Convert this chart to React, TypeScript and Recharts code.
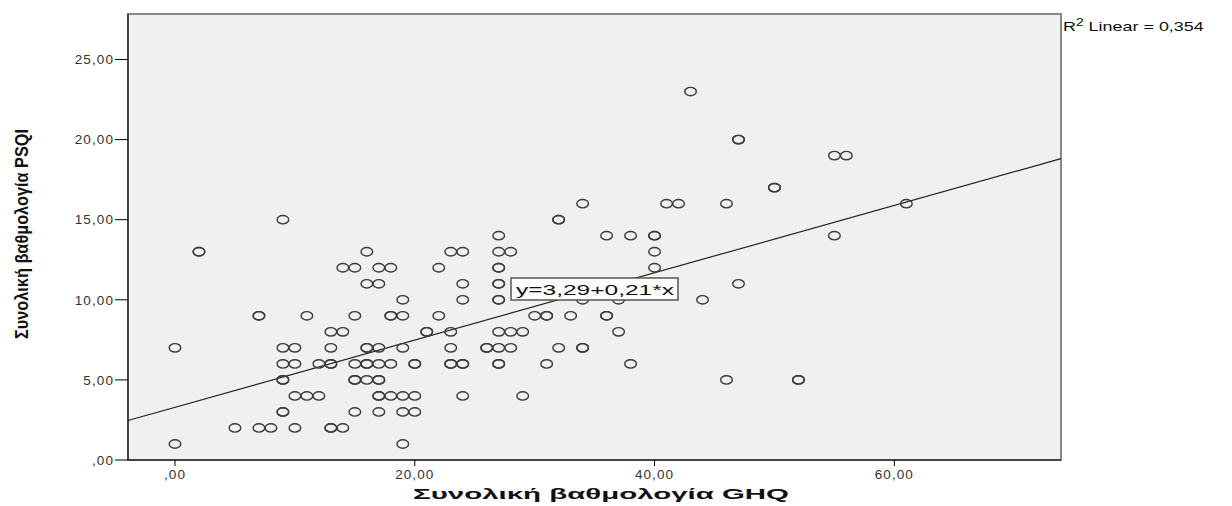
import React from "react";
import {
  ScatterChart,
  Scatter,
  XAxis,
  YAxis,
  CartesianGrid,
  ReferenceLine,
  ReferenceArea,
} from "recharts";

// GHQ score (x) and PSQI score (y); repeated pairs are overlapping cases
const ghq: number[] = [
  9, 43, 47, 47, 34, 32, 32, 27, 36, 38, 40, 40, 41, 42, 46, 55, 56, 50, 50, 61,
  55, 2, 2, 16, 14, 15, 17, 18, 22, 16, 17, 19, 7, 7, 11, 15, 18, 18, 19, 22,
  13, 14, 21, 21, 0, 9, 10, 13, 16, 16, 17, 19, 9, 10, 12, 13, 13, 15, 16, 16,
  17, 18, 20, 20, 9, 9, 15, 15, 16, 17, 17, 10, 11, 12, 17, 17, 18, 19, 20, 9,
  9, 15, 17, 19, 20, 5, 7, 8, 10, 13, 13, 14, 0, 19, 23, 24, 27, 28, 40, 27,
  27, 40, 24, 27, 27, 47, 24, 27, 27, 34, 37, 44, 30, 31, 31, 33, 36, 36, 23,
  27, 28, 29, 37, 23, 26, 26, 27, 28, 32, 34, 34, 23, 23, 24, 24, 27, 27, 31,
  38, 46, 24, 29, 52, 52,
];
const psqi: number[] = [
  15, 23, 20, 20, 16, 15, 15, 14, 14, 14, 14, 14, 16, 16, 16, 19, 19, 17, 17, 16,
  14, 13, 13, 13, 12, 12, 12, 12, 12, 11, 11, 10, 9, 9, 9, 9, 9, 9, 9, 9,
  8, 8, 8, 8, 7, 7, 7, 7, 7, 7, 7, 7, 6, 6, 6, 6, 6, 6, 6, 6,
  6, 6, 6, 6, 5, 5, 5, 5, 5, 5, 5, 4, 4, 4, 4, 4, 4, 4, 4, 3,
  3, 3, 3, 3, 3, 2, 2, 2, 2, 2, 2, 2, 1, 1, 13, 13, 13, 13, 13, 12,
  12, 12, 11, 11, 11, 11, 10, 10, 10, 10, 10, 10, 9, 9, 9, 9, 9, 9, 8,
  8, 8, 8, 8, 7, 7, 7, 7, 7, 7, 7, 7, 6, 6, 6, 6, 6, 6, 6,
  6, 5, 4, 4, 5, 5,
];

const xTicks = [0, 20, 40, 60];
const yTicks = [0, 5, 10, 15, 20, 25];
const xDomain: [number, number] = [-3.92, 73.9];
const yDomain: [number, number] = [0, 27.84];

// fit line: y = 3.29 + 0.21x
const intercept = 3.29;
const slope = 0.21;
const rSquared = "0,354";

const points = ghq.map((g, i) => ({ ghq: g, psqi: psqi[i] }));

const fmt = (v: number) =>
  v === 0 ? ",00" : v.toFixed(2).replace(".", ",");

const OpenCircle = (props: any) => (
  <ellipse
    cx={props.cx}
    cy={props.cy}
    rx={5.8}
    ry={4.2}
    fill="none"
    stroke="#3a3a3a"
    strokeWidth={1.4}
  />
);

const font = "'Liberation Sans', Arial, sans-serif";
const tickStyle = {
  fill: "#333",
  fontSize: 13.5,
  fontFamily: font,
  letterSpacing: 1.1,
};

export default function App(): JSX.Element {
  return (
    <div
      style={{
        position: "absolute",
        left: 0,
        top: 0,
        width: 1232,
        height: 506,
        background: "#fff",
      }}
    >
      <ScatterChart
        width={1232}
        height={506}
        margin={{ top: 14, right: 171, left: 68, bottom: 16 }}
      >
        <CartesianGrid
          fill="#f0f0f0"
          horizontal={false}
          vertical={false}
        />
        <ReferenceArea
          x1={xDomain[0]}
          x2={xDomain[1]}
          y1={yDomain[0]}
          y2={yDomain[1]}
          fill="none"
          stroke="#888"
          strokeWidth={2}
          ifOverflow="visible"
        />
        <XAxis
          type="number"
          dataKey="ghq"
          domain={xDomain}
          ticks={xTicks}
          allowDataOverflow
          height={30}
          tickFormatter={fmt}
          tickSize={6}
          tickMargin={3}
          stroke="#000"
          tick={tickStyle}
        />
        <YAxis
          type="number"
          dataKey="psqi"
          domain={yDomain}
          ticks={yTicks}
          allowDataOverflow
          width={60}
          tickFormatter={fmt}
          tickSize={13}
          tickMargin={1}
          stroke="#000"
          tick={tickStyle}
        />
        <ReferenceLine
          segment={[
            { x: xDomain[0], y: intercept + slope * xDomain[0] },
            { x: xDomain[1], y: intercept + slope * xDomain[1] },
          ]}
          stroke="#222"
          strokeWidth={1.2}
        />
        <Scatter
          data={points}
          shape={OpenCircle}
          isAnimationActive={false}
        />
      </ScatterChart>
      <svg
        width={1232}
        height={506}
        style={{ position: "absolute", left: 0, top: 0, pointerEvents: "none" }}
      >
        <text
          transform="translate(28,234) rotate(-90)"
          textAnchor="middle"
          fontFamily={font}
          fontWeight="bold"
          fontSize={19}
          textLength={210}
          lengthAdjust="spacingAndGlyphs"
          fill="#111"
        >
          Συνολική βαθμολογία PSQI
        </text>
        <text
          x={413}
          y={499}
          fontFamily={font}
          fontWeight="bold"
          fontSize={15}
          textLength={376}
          lengthAdjust="spacingAndGlyphs"
          fill="#111"
        >
          Συνολική βαθμολογία GHQ
        </text>
        <g transform="translate(1063,31) scale(1.38,1)">
          <text x={0} y={0} fontFamily={font} fontSize={13} fill="#111">
            R<tspan dy={-5} fontSize={10}>2</tspan>
            <tspan dy={5}> Linear = {rSquared}</tspan>
          </text>
        </g>
        <rect
          x={511}
          y={278}
          width={167}
          height={22}
          fill="#fff"
          stroke="#555"
          strokeWidth={1.5}
        />
        <text
          x={516}
          y={295}
          fontFamily={font}
          fontSize={15}
          textLength={158}
          lengthAdjust="spacingAndGlyphs"
          fill="#111"
        >
          y=3,29+0,21*x
        </text>
      </svg>
    </div>
  );
}
